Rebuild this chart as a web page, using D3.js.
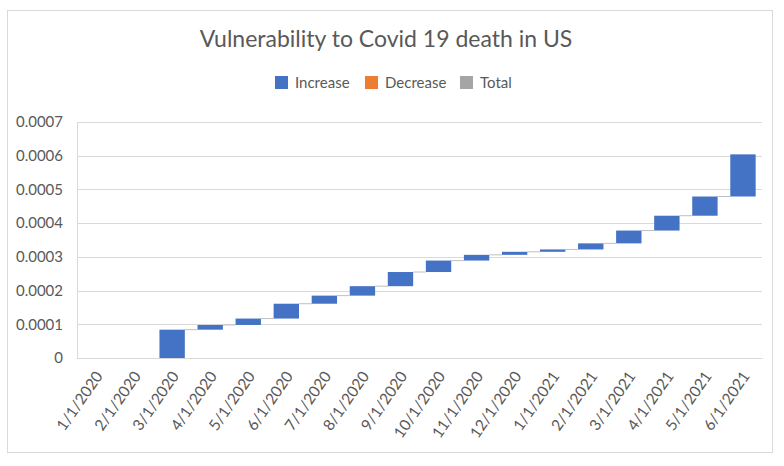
<!DOCTYPE html>
<html>
<head>
<meta charset="utf-8">
<script src="https://cdn.jsdelivr.net/npm/d3@7"></script>
<style>
  html, body { margin: 0; padding: 0; background: #fff; }
  svg { display: block; font-family: Lato, "Open Sans", sans-serif; }
</style>
</head>
<body>
<svg id="chart" width="784" height="466"></svg>
<script>
// ---- data ----
const categories = ["1/1/2020","2/1/2020","3/1/2020","4/1/2020","5/1/2020","6/1/2020","7/1/2020","8/1/2020","9/1/2020","10/1/2020","11/1/2020","12/1/2020","1/1/2021","2/1/2021","3/1/2021","4/1/2021","5/1/2021","6/1/2021"];
// monthly change in vulnerability (waterfall increments)
const changes = [0, 0, 0.000084, 0.000014, 0.000019, 0.000044, 0.000024, 0.000028, 0.000042, 0.000034, 0.000017, 0.000009, 0.000007, 0.000018, 0.000038, 0.000044, 0.000057, 0.000125];
const yTicks = [0, 0.0001, 0.0002, 0.0003, 0.0004, 0.0005, 0.0006, 0.0007];
const yTickLabels = ["0","0.0001","0.0002","0.0003","0.0004","0.0005","0.0006","0.0007"];
const legendLabels = ["Increase","Decrease","Total"];
const legendColors = ["#4472C4","#ED7D31","#A5A5A5"];
const title = "Vulnerability to Covid 19 death in US";

// build waterfall rows
let run = 0;
const rows = categories.map((c, i) => {
  const start = run;
  run += changes[i];
  return { cat: c, start: start, end: run, v: changes[i] };
});

const svg = d3.select("#chart");
const textColor = "#595959";

// outer frame
svg.append("rect").attr("x", 7.5).attr("y", 10.5).attr("width", 765).attr("height", 442)
  .attr("fill", "#fff").attr("stroke", "#D9D9D9").attr("stroke-width", 1);

const x = d3.scaleBand().domain(categories).range([77, 762]).paddingInner(1/3).paddingOuter(1/6);
const y = d3.scaleLinear().domain([0, 0.0007]).range([358, 122]);

// gridlines
svg.append("g").selectAll("line").data(yTicks).join("line")
  .attr("x1", 77).attr("x2", 762)
  .attr("y1", d => Math.round(y(d)) + 0.5).attr("y2", d => Math.round(y(d)) + 0.5)
  .attr("stroke", "#D9D9D9").attr("stroke-width", 1);

// y axis
const yAxis = d3.axisLeft(y).tickValues(yTicks).tickFormat((d, i) => yTickLabels[i]).tickSize(0).tickPadding(14);
const gy = svg.append("g").attr("transform", "translate(77,0)").call(yAxis);
gy.select(".domain").attr("stroke", "#D9D9D9");
gy.selectAll("text").attr("fill", textColor).attr("font-size", "15px").attr("font-family", "Lato, sans-serif");

// x axis
const xAxis = d3.axisBottom(x).tickSize(0).tickPadding(0);
const gx = svg.append("g").attr("transform", "translate(0,358)").call(xAxis);
gx.select(".domain").attr("stroke", "#D9D9D9");
gx.selectAll("text")
  .attr("fill", textColor).attr("font-size", "15.5px").attr("font-family", "Lato, sans-serif")
  .attr("text-anchor", "end").attr("dy", "0.35em")
  .attr("transform", "translate(3,15) rotate(-55)");

// connectors (skip those lying on the zero axis)
svg.append("g").selectAll("line").data(rows.slice(0, -1).map((d, i) => ({ d, i })).filter(o => o.d.end !== 0)).join("line")
  .attr("x1", o => x(o.d.cat) + x.bandwidth())
  .attr("x2", o => x(categories[o.i + 1]))
  .attr("y1", o => y(o.d.end)).attr("y2", o => y(o.d.end))
  .attr("stroke", "#BFBFBF").attr("stroke-width", 1);

// bars
svg.append("g").selectAll("rect").data(rows.filter(d => d.v !== 0)).join("rect")
  .attr("x", d => x(d.cat))
  .attr("width", x.bandwidth())
  .attr("y", d => y(Math.max(d.start, d.end)))
  .attr("height", d => Math.abs(y(d.start) - y(d.end)))
  .attr("fill", d => d.v >= 0 ? legendColors[0] : legendColors[1]);

// title
svg.append("text").attr("x", 386).attr("y", 47).attr("text-anchor", "middle")
  .attr("font-size", "23px").attr("fill", textColor).text(title);

// legend
const legendX = [275, 365, 460];
const lg = svg.append("g").selectAll("g").data(legendLabels).join("g")
  .attr("transform", (d, i) => `translate(${legendX[i]},76)`);
lg.append("rect").attr("width", 13).attr("height", 13).attr("fill", (d, i) => legendColors[i]);
lg.append("text").attr("x", 20).attr("y", 6.5).attr("dy", "0.35em")
  .attr("font-size", "15px").attr("fill", textColor).text(d => d);
</script>
</body>
</html>
